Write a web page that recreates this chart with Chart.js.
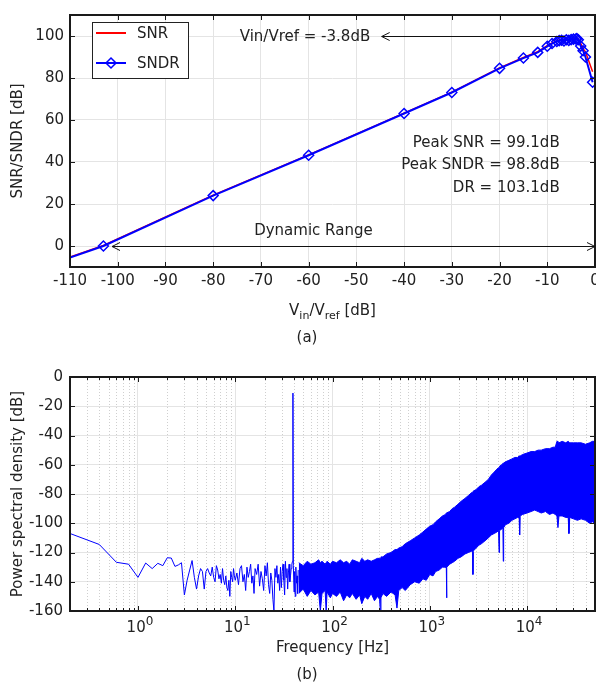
<!DOCTYPE html>
<html>
<head>
<meta charset="utf-8">
<script src="https://cdn.jsdelivr.net/npm/chart.js@4.4.1/dist/chart.umd.min.js"></script>
<style>
  html, body { margin: 0; padding: 0; background: #fff; overflow: hidden; }
  #wrap { position: relative; width: 596px; height: 686px; overflow: hidden; font-family: 'DejaVu Sans', sans-serif; color: #222; }
  canvas { position: absolute; left: 0; }
  #snrCanvas { top: 0; }
  #psdCanvas { top: 350px; }
  .cap { position: absolute; left: 287px; width: 40px; text-align: center; font-size: 15px; line-height: 18px; }
</style>
</head>
<body>
<div id="wrap">
  <canvas id="snrCanvas" width="606" height="350"></canvas>
  <canvas id="psdCanvas" width="596" height="336"></canvas>
  <div class="cap" style="top:328px">(a)</div>
  <div class="cap" style="top:665px">(b)</div>
</div>
<script>
/* =========================
   DATA (a) SNR / SNDR sweep
========================= */
const vinDb  = [-110, -103, -80, -60, -40, -30, -20, -15, -12, -10, -9, -8, -7.5, -7, -6.5, -6, -5.5, -5, -4.5, -4, -3.8, -3.5, -3, -2.5, -2, -0.5];
const sndrDb = [-5.5, 0, 24, 43.2, 63.1, 73.1, 84.6, 89.5, 92.2, 95.1, 96.4, 97.4, 97.8, 98.0, 97.6, 98.2, 97.9, 98.3, 98.5, 98.6, 98.8, 98.2, 95.2, 93.0, 90.0, 78.0];
const snrDb  = [-5.2, 0.3, 24.2, 43.4, 63.3, 73.3, 84.8, 89.8, 92.5, 95.4, 96.7, 97.7, 98.1, 98.3, 97.9, 98.5, 98.2, 98.6, 98.8, 98.9, 99.1, 98.6, 96.5, 94.0, 92.5, 83.0];
const snrXTicks = [-110, -100, -90, -80, -70, -60, -50, -40, -30, -20, -10, 0];
const snrYTicks = [0, 20, 40, 60, 80, 100];
const peakLabels = ["Peak SNR = 99.1dB", "Peak SNDR = 98.8dB", "DR = 103.1dB"];
const inputLabel = "Vin/Vref = -3.8dB";
const rangeLabel = "Dynamic Range";

/* =========================
   DATA (b) output spectrum
========================= */
const lowFreq = [0.2, 0.4, 0.6, 0.8, 1.0, 1.2, 1.4, 1.6, 1.8, 2.0, 2.2, 2.4, 2.6, 2.8, 3.0, 3.2, 3.4, 3.6, 3.8, 4.0,
  4.2, 4.4, 4.6, 4.8, 5.0, 5.2, 5.4, 5.6, 5.8, 6.0, 6.2, 6.4, 6.6, 6.8, 7.0, 7.2, 7.4, 7.6, 7.8, 8.0,
  8.2, 8.4, 8.6, 8.8, 9.0, 9.2, 9.4, 9.6, 9.8, 10.0, 10.4, 10.8, 11.2, 11.6, 12.0, 12.4, 12.8, 13.2, 13.6, 14.0,
  14.4, 14.8, 15.2, 15.6, 16.0, 16.6, 17.2, 17.8, 18.4, 19.0, 19.6, 20.2, 20.8, 21.4, 22.0, 22.6, 23.2, 23.8, 24.4, 25.0,
  25.6, 26.2, 26.8, 27.4, 28.0, 28.6, 29.2, 29.8, 30.4, 31.0, 31.6, 32.2, 32.8, 33.4, 34.0, 34.6, 35.2, 35.8, 36.4, 37.0,
  37.6, 38.2, 38.8, 39.2, 39.6, 40.2, 40.8, 41.4, 42.0, 42.6, 43.2, 43.8, 44.4];
const lowPsd = [-107, -114.5, -126.7, -128, -137, -127.2, -131, -127.4, -129, -123.6, -123.8, -129.5, -128.5, -127, -149, -139, -132, -125.5, -137, -145,
  -136, -131, -133, -145, -133, -131, -134, -136, -130, -137, -140, -129, -132, -138, -135, -141, -131, -139, -142, -136,
  -144, -146, -139, -150, -133, -137, -140, -131, -136, -139, -134, -142, -131, -129, -140, -135, -146, -130, -137, -133,
  -128, -141, -136, -148, -131, -135, -128, -143, -133, -138, -146, -129, -136, -127, -142, -148, -134, -139, -152, -160,
  -131, -137, -129, -141, -135, -146, -130, -144, -133, -128, -139, -149, -126, -137, -131, -145, -134, -128, -140, -136,
  -131, -128, -126, -11, -129, -147, -133, -150, -130, -141, -136, -148, -132];

const bandFreq = [45, 50, 55, 60, 66, 72, 75, 78, 84, 86, 88, 95, 100, 110, 120, 130, 140, 150, 160, 175,
  190, 200, 215, 230, 250, 270, 290, 305, 310, 315, 330, 360, 400, 440, 460, 480, 520, 560, 630, 700,
  780, 850, 920, 1000, 1080, 1150, 1250, 1350, 1450, 1480, 1490, 1500, 1600, 1700, 1800, 1950, 2100, 2300, 2500, 2700,
  2760, 2780, 2800, 3000, 3200, 3400, 3700, 4000, 4300, 4600, 4900, 5100, 5160, 5220, 5500, 5650, 5700, 5750, 6000, 6500,
  7000, 7500, 8000, 8300, 8400, 8500, 9000, 10000, 11000, 12000, 13000, 14000, 15500, 17000, 18500, 19500, 20300, 20800, 21300, 23000,
  25000, 26500, 27000, 27500, 30000, 33000, 36000, 40000, 44000, 47000, 50000];
const bandUpper = [-127, -129, -126, -128, -127, -125, -127, -126, -128, -127, -126, -128, -126, -127, -125, -127, -126, -128, -125, -126,
  -127, -124, -126, -125, -126, -125, -124, -124, -124, -123, -123, -121, -120, -118, -118, -117, -116, -114, -112, -110,
  -108, -106, -104, -102, -101, -99, -97, -95, -94, -93, -93, -93, -92, -90, -89, -87, -85, -83, -81, -79,
  -79, -79, -78, -77, -75, -74, -72, -70, -67, -65, -63, -62, -62, -61, -60, -59, -59, -59, -58, -57,
  -56, -55, -55, -54, -54, -54, -53, -52, -51, -51, -50, -50, -49, -49, -48, -48, -44, -44, -45, -44,
  -45, -44, -44, -45, -45, -45, -45, -46, -45, -44, -44];
const bandLower = [-148, -145, -150, -146, -149, -147, -160, -148, -146, -160, -147, -151, -148, -150, -147, -153, -149, -151, -148, -152,
  -149, -155, -150, -152, -148, -153, -150, -152, -160, -151, -148, -150, -147, -149, -158, -146, -144, -146, -142, -140,
  -141, -138, -139, -135, -136, -133, -132, -130, -130, -131, -151, -130, -128, -127, -126, -124, -123, -121, -120, -119,
  -120, -135, -119, -117, -115, -114, -112, -110, -108, -107, -106, -105, -120, -105, -104, -103, -126, -103, -101, -100,
  -98, -97, -96, -96, -108, -95, -94, -93, -92, -91, -92, -93, -92, -94, -93, -94, -95, -103, -95, -95,
  -96, -96, -107, -96, -97, -98, -97, -98, -100, -99, -100];
const psdXTicks = [1, 10, 100, 1000, 10000];
const psdYTicks = [0, -20, -40, -60, -80, -100, -120, -140, -160];

/* =========================
   SHARED HELPERS
========================= */
const FAMILY = "'DejaVu Sans', sans-serif";
const FONT = "15px " + FAMILY;
const SMALL = "11px " + FAMILY;
const INK = "#222";

Chart.defaults.font.family = FAMILY;
Chart.defaults.font.size = 15;
Chart.defaults.color = INK;

function pts(xs, ys) {
    return xs.map((x, i) => ({ x: x, y: ys[i] }));
}

function fixedTicks(list) {
    return function (scale) {
        scale.ticks = list.map(v => ({ value: v }));
    };
}

// MATLAB-like box with inward ticks
function drawBox(chart, xTicks, yTicks, minorX) {
    const { ctx, chartArea: a, scales } = chart;
    ctx.save();
    ctx.strokeStyle = "#1a1a1a";
    ctx.lineWidth = 1;
    ctx.beginPath();
    xTicks.forEach(v => {
        const px = Math.round(scales.x.getPixelForValue(v)) + 0.5;
        ctx.moveTo(px, a.bottom); ctx.lineTo(px, a.bottom - 5);
        ctx.moveTo(px, a.top); ctx.lineTo(px, a.top + 5);
    });
    minorX.forEach(v => {
        const px = Math.round(scales.x.getPixelForValue(v)) + 0.5;
        ctx.moveTo(px, a.bottom); ctx.lineTo(px, a.bottom - 3);
        ctx.moveTo(px, a.top); ctx.lineTo(px, a.top + 3);
    });
    yTicks.forEach(v => {
        const py = Math.round(scales.y.getPixelForValue(v)) + 0.5;
        ctx.moveTo(a.left, py); ctx.lineTo(a.left + 5, py);
        ctx.moveTo(a.right, py); ctx.lineTo(a.right - 5, py);
    });
    ctx.stroke();
    ctx.lineWidth = 2;
    ctx.strokeRect(a.left, a.top, a.right - a.left, a.bottom - a.top);
    ctx.restore();
}

function arrowHead(ctx, x, y, dir) {
    ctx.beginPath();
    ctx.moveTo(x - dir * 8, y - 4);
    ctx.lineTo(x, y);
    ctx.lineTo(x - dir * 8, y + 4);
    ctx.stroke();
}

function diamond(ctx, x, y, r) {
    ctx.beginPath();
    ctx.moveTo(x, y - r); ctx.lineTo(x + r, y); ctx.lineTo(x, y + r); ctx.lineTo(x - r, y);
    ctx.closePath();
    ctx.stroke();
}

// text made of [string, font, baseline shift] pieces, centred on cx
function drawPieces(ctx, parts, cx, baseY) {
    let w = 0;
    parts.forEach(p => { ctx.font = p[1]; w += ctx.measureText(p[0]).width; });
    let x0 = cx - w / 2;
    ctx.textAlign = "left";
    ctx.textBaseline = "alphabetic";
    parts.forEach(p => {
        ctx.font = p[1];
        ctx.fillText(p[0], x0, baseY + p[2]);
        x0 += ctx.measureText(p[0]).width;
    });
}

/* =========================
   CHART (a)
========================= */
const snrDecor = {
    id: "snrDecor",
    afterDatasetsDraw(chart) {
        const { ctx, chartArea: a, scales: { x, y } } = chart;
        drawBox(chart, snrXTicks, snrYTicks, []);

        ctx.save();
        ctx.font = FONT;
        ctx.fillStyle = INK;
        ctx.strokeStyle = "#111";
        ctx.lineWidth = 1;

        // input level arrow
        const yTop = Math.round(y.getPixelForValue(100)) + 0.5;
        const tip = x.getPixelForValue(-44.7);
        ctx.beginPath();
        ctx.moveTo(x.getPixelForValue(-6.3), yTop); ctx.lineTo(tip, yTop);
        ctx.stroke();
        arrowHead(ctx, tip, yTop, -1);
        ctx.textAlign = "right";
        ctx.textBaseline = "middle";
        ctx.fillText(inputLabel, x.getPixelForValue(-47.1), yTop + 1);

        // dynamic range arrow
        const yZero = Math.round(y.getPixelForValue(0)) + 0.5;
        const l = x.getPixelForValue(-101.2), r = a.right;
        ctx.beginPath();
        ctx.moveTo(l, yZero); ctx.lineTo(r, yZero);
        ctx.stroke();
        arrowHead(ctx, l, yZero, -1);
        arrowHead(ctx, r, yZero, 1);
        ctx.textAlign = "center";
        ctx.fillText(rangeLabel, x.getPixelForValue(-59), y.getPixelForValue(7.1));

        // peak figures
        ctx.textAlign = "right";
        const rows = [49.1, 38.7, 27.8];
        peakLabels.forEach((t, i) => {
            ctx.fillText(t, x.getPixelForValue(-7.4), y.getPixelForValue(rows[i]));
        });

        // legend
        ctx.fillStyle = "#fff";
        ctx.fillRect(92, 22, 96, 56);
        ctx.strokeStyle = "#222";
        ctx.strokeRect(92.5, 22.5, 96, 56);
        ctx.lineWidth = 2;
        ctx.strokeStyle = "#ff0000";
        ctx.beginPath(); ctx.moveTo(96, 33); ctx.lineTo(126, 33); ctx.stroke();
        ctx.strokeStyle = "#0000ff";
        ctx.beginPath(); ctx.moveTo(96, 63); ctx.lineTo(126, 63); ctx.stroke();
        ctx.lineWidth = 1.5;
        diamond(ctx, 111, 63, 5);
        ctx.fillStyle = INK;
        ctx.textAlign = "left";
        ctx.fillText("SNR", 137, 34);
        ctx.fillText("SNDR", 137, 64);

        // x title with subscripts
        drawPieces(ctx, [["V", FONT, 0], ["in", SMALL, 4], ["/V", FONT, 0], ["ref", SMALL, 4], [" [dB]", FONT, 0]],
            (a.left + a.right) / 2, 315);
        ctx.restore();
    }
};

new Chart(document.getElementById("snrCanvas"), {
    type: "line",
    data: {
        datasets: [
            {
                label: "SNDR",
                data: pts(vinDb, sndrDb),
                borderColor: "#0000ff",
                borderWidth: 2,
                pointStyle: "rectRot",
                pointRadius: ctx => (ctx.dataIndex === 0 ? 0 : 5),
                pointBorderColor: "#0000ff",
                pointBackgroundColor: "rgba(255,255,255,0)",
                pointBorderWidth: 1.5,
                tension: 0
            },
            {
                label: "SNR",
                data: pts(vinDb, snrDb),
                borderColor: "#ff0000",
                borderWidth: 1.5,
                pointRadius: 0,
                tension: 0
            }
        ]
    },
    plugins: [snrDecor],
    options: {
        responsive: false,
        animation: false,
        devicePixelRatio: 1,
        events: [],
        // canvas is 10px wider than the page so the "0" label runs off the edge like the original
        layout: { padding: { top: 13, right: 11, left: 0, bottom: 0 } },
        plugins: { legend: { display: false }, tooltip: { enabled: false } },
        scales: {
            x: {
                type: "linear",
                min: -110,
                max: 0,
                afterBuildTicks: fixedTicks(snrXTicks),
                afterFit(s) { s.height = 83; },
                ticks: { padding: 5, autoSkip: false, maxRotation: 0, callback: v => String(v) },
                grid: { color: "#e4e4e4", drawTicks: false },
                border: { display: false }
            },
            y: {
                min: -10,
                max: 110,
                afterBuildTicks: fixedTicks(snrYTicks),
                afterFit(s) { s.width = 70; },
                ticks: { padding: 6, callback: v => String(v) },
                grid: { color: "#e4e4e4", drawTicks: false },
                border: { display: false },
                title: { display: true, text: "SNR/SNDR [dB]", padding: { top: 9, bottom: 0 } }
            }
        }
    }
});

/* =========================
   CHART (b)
========================= */
function minorLogTicks(min, max) {
    const out = [];
    for (let d = -1; d <= 4; d++) {
        for (let m = 2; m <= 9; m++) {
            const v = m * Math.pow(10, d);
            if (v > min && v < max) out.push(v);
        }
    }
    return out;
}
const psdMinor = minorLogTicks(0.2, 50000);

const psdDecor = {
    id: "psdDecor",
    beforeDatasetsDraw(chart) {
        const { ctx, chartArea: a, scales: { x } } = chart;
        ctx.save();
        ctx.strokeStyle = "#cfcfcf";
        ctx.lineWidth = 1;
        ctx.setLineDash([1, 2]);
        ctx.beginPath();
        psdMinor.forEach(v => {
            const px = Math.round(x.getPixelForValue(v)) + 0.5;
            ctx.moveTo(px, a.top); ctx.lineTo(px, a.bottom);
        });
        ctx.stroke();
        ctx.restore();
    },
    afterDatasetsDraw(chart) {
        const { ctx, chartArea: a, scales: { x } } = chart;
        drawBox(chart, psdXTicks, psdYTicks, psdMinor);
        ctx.save();
        ctx.fillStyle = INK;
        // decade labels 10^n with a raised exponent
        psdXTicks.forEach(v => {
            const exp = String(Math.round(Math.log10(v)));
            drawPieces(ctx, [["10", FONT, 0], [exp, "12px " + FAMILY, -7]], x.getPixelForValue(v) + 2, a.bottom + 21);
        });
        ctx.font = FONT;
        ctx.textAlign = "center";
        ctx.fillText("Frequency [Hz]", (a.left + a.right) / 2, 302);
        ctx.restore();
    }
};

new Chart(document.getElementById("psdCanvas"), {
    type: "line",
    data: {
        datasets: [
            {
                label: "PSD",
                data: pts(lowFreq, lowPsd),
                borderColor: "#0000ff",
                borderWidth: 1,
                pointRadius: 0,
                tension: 0
            },
            {
                label: "noise floor low",
                data: pts(bandFreq, bandLower),
                borderColor: "#0000ff",
                borderWidth: 1,
                pointRadius: 0,
                fill: false,
                tension: 0
            },
            {
                label: "noise floor high",
                data: pts(bandFreq, bandUpper),
                borderColor: "#0000ff",
                backgroundColor: "#0000ff",
                borderWidth: 1,
                pointRadius: 0,
                fill: "-1",
                tension: 0
            }
        ]
    },
    plugins: [psdDecor],
    options: {
        responsive: false,
        animation: false,
        devicePixelRatio: 1,
        events: [],
        layout: { padding: { top: 27, right: 1, left: 0, bottom: 0 } },
        plugins: { legend: { display: false }, tooltip: { enabled: false } },
        scales: {
            x: {
                type: "logarithmic",
                min: 0.2,
                max: 50000,
                afterBuildTicks: fixedTicks(psdXTicks),
                afterFit(s) { s.height = 75; },
                ticks: { display: false },
                grid: { color: "#e4e4e4", drawTicks: false },
                border: { display: false }
            },
            y: {
                min: -160,
                max: 0,
                afterBuildTicks: fixedTicks(psdYTicks),
                afterFit(s) { s.width = 70; },
                ticks: { padding: 7, callback: v => String(v) },
                grid: { color: "#e4e4e4", drawTicks: false },
                border: { display: false },
                title: { display: true, text: "Power spectral density [dB]", padding: { top: 9, bottom: 0 } }
            }
        }
    }
});
</script>
</body>
</html>
